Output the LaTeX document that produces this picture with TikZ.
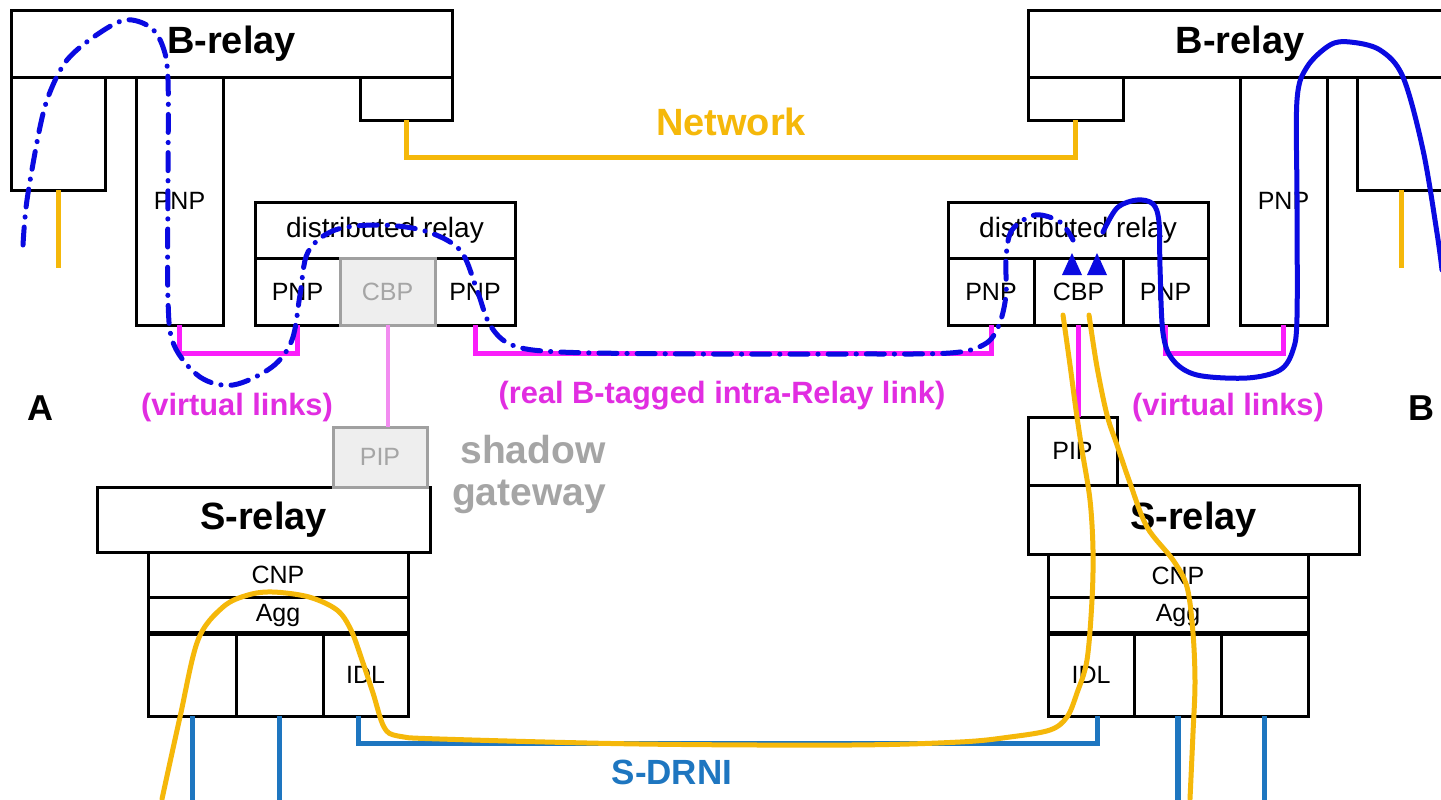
\documentclass[tikz,border=0pt]{standalone}
\usepackage{fontspec}
\setmainfont{Liberation Sans}
\usetikzlibrary{fit,calc}
\definecolor{netorange}{RGB}{245,184,10}
\definecolor{linkmag}{RGB}{250,30,250}
\definecolor{textmag}{RGB}{225,45,225}
\definecolor{pinkline}{RGB}{242,140,240}
\definecolor{pathblue}{RGB}{10,10,225}
\definecolor{steel}{RGB}{30,118,192}
\definecolor{ghosttext}{RGB}{165,165,165}
\definecolor{ghostdraw}{RGB}{160,160,160}
\definecolor{ghostfill}{RGB}{238,238,238}
\begin{document}
\begin{tikzpicture}[x=0.5pt,y=-0.5pt,
  blk/.style={draw=black, line width=1.5pt, fill=white, inner sep=0pt, outer sep=0pt},
  ghost/.style={draw=ghostdraw, line width=1.5pt, fill=ghostfill, inner sep=0pt, outer sep=0pt},
  smalltxt/.style={inner sep=0pt, font=\fontsize{12.5}{15}\selectfont},
  ghosttxt/.style={smalltxt, text=ghosttext},
  relaytxt/.style={inner sep=0pt, font=\bfseries\fontsize{19}{22}\selectfont},
  drtxt/.style={inner sep=0pt, font=\fontsize{14}{16}\selectfont},
  magtxt/.style={text=textmag, font=\bfseries\fontsize{15.4}{18}\selectfont},
  side/.style={font=\bfseries\fontsize{18}{21}\selectfont},
  orangeln/.style={draw=netorange, line width=2.5pt},
  magln/.style={draw=linkmag, line width=2.5pt},
  steelln/.style={draw=steel, line width=2.5pt},
  dashdot/.style={draw=pathblue, line width=2.5pt, line cap=round,
    dash pattern=on 9pt off 5pt on 0.1pt off 5pt},
  solidblue/.style={draw=pathblue, line width=2.5pt, line cap=round}
]
\clip (0,0) rectangle (1441,799);
\fill[white] (0,0) rectangle (1441,799);

% ---------- left bridge ----------
\node[blk, fit={(11,10)(452,77)}] (brL) {};
\node[blk, fit={(11,77)(105,190)}] (aL) {};
\node[blk, fit={(136,77)(223,325)}] (pnpL) {};
\node[blk, fit={(360,77)(452,120)}] (sL) {};
\node[blk, fit={(255,202)(515,258)}] (drL) {};
\node[blk, fit={(255,258)(340,325)}] (dpL1) {};
\node[blk, fit={(435,258)(515,325)}] (dpL2) {};
\node[ghost, fit={(340,258)(435,325)}] (cbpL) {};
\node[relaytxt] (brL-t) at (brL) {B-relay};
\node[smalltxt] (pnpL-t) at (pnpL) {PNP};
\node[drtxt] (drL-t) at (drL) {distributed relay};
\node[smalltxt] (dpL1-t) at (dpL1) {PNP};
\node[smalltxt] (dpL2-t) at (dpL2) {PNP};
\node[ghosttxt] (cbpL-t) at (cbpL) {CBP};

% ---------- right bridge ----------
\node[blk, fit={(1028,10)(1452,77)}] (brR) {};
\node[blk, fit={(1028,77)(1123,120)}] (sR) {};
\node[blk, fit={(1240,77)(1327,325)}] (pnpR) {};
\node[blk, fit={(1357,77)(1452,190)}] (aR) {};
\node[blk, fit={(948,202)(1208,258)}] (drR) {};
\node[blk, fit={(948,258)(1034,325)}] (dpR1) {};
\node[blk, fit={(1034,258)(1123,325)}] (cbpR) {};
\node[blk, fit={(1123,258)(1208,325)}] (dpR2) {};
\node[relaytxt] (brR-t) at (brR) {B-relay};
\node[smalltxt] (pnpR-t) at (pnpR) {PNP};
\node[drtxt] (drR-t) at (drR) {distributed relay};
\node[smalltxt] (dpR1-t) at (dpR1) {PNP};
\node[smalltxt] (cbpR-t) at (cbpR) {CBP};
\node[smalltxt] (dpR2-t) at (dpR2) {PNP};

% ---------- left S-relay ----------
\node[blk, fit={(97,487)(430,552)}] (srL) {};
\node[blk, fit={(148,552)(408,597)}] (cnpL) {};
\node[blk, fit={(148,597)(408,633)}] (aggL) {};
\node[blk, fit={(148,633)(236,716)}] (c1L) {};
\node[blk, fit={(236,633)(323,716)}] (c2L) {};
\node[blk, fit={(323,633)(408,716)}] (idlL) {};
\draw[line width=2.5pt] (aggL.south west) -- (aggL.south east);
\node[ghost, fit={(333,427)(427,487)}] (pipL) {};
\node[relaytxt] (srL-t) at (srL) {S-relay};
\node[smalltxt] (cnpL-t) at (cnpL) {CNP};
\node[smalltxt] (aggL-t) at (aggL) {Agg};
\node[smalltxt] (idlL-t) at (idlL) {IDL};
\node[ghosttxt] (pipL-t) at (pipL) {PIP};

% ---------- right S-relay ----------
\node[blk, fit={(1028,417)(1117,485)}] (pipR) {};
\node[blk, fit={(1028,485)(1359,554)}] (srR) {};
\node[blk, fit={(1048,554)(1308,597)}] (cnpR) {};
\node[blk, fit={(1048,597)(1308,633)}] (aggR) {};
\node[blk, fit={(1048,633)(1134,716)}] (idlR) {};
\node[blk, fit={(1134,633)(1221,716)}] (c2R) {};
\node[blk, fit={(1221,633)(1308,716)}] (c3R) {};
\draw[line width=2.5pt] (aggR.south west) -- (aggR.south east);
\node[smalltxt] (pipR-t) at (pipR) {PIP};
\node[relaytxt] (srR-t) at (srR) {S-relay};
\node[smalltxt] (cnpR-t) at (cnpR) {CNP};
\node[smalltxt] (aggR-t) at (aggR) {Agg};
\node[smalltxt] (idlR-t) at (idlR) {IDL};

% ---------- network links ----------
\draw[orangeln] (sL.south) -- ++(0,37) -| (sR.south);
\draw[orangeln] (aL.south) -- ++(0,78);
\coordinate (aRport) at ($(aR.south west)+(44,0)$);
\draw[orangeln] (aRport) -- ++(0,78);

% virtual and intra-relay links
\draw[magln] (pnpL.south) -- ++(0,28) -| (dpL1.south);
\draw[magln] (dpL2.south) -- ++(0,28) -| (dpR1.south);
\draw[magln] (dpR2.south) -- ++(0,28) -| (pnpR.south);
\draw[draw=pinkline, line width=2pt] (cbpL.south) -- (cbpL.south |- pipL.north);
\draw[magln] (cbpR.south) -- (cbpR.south |- pipR.north);

% S-DRNI and edge ports
\draw[steelln] ([xshift=-3.5pt]idlL.south) -- ++(0,27) -| ([xshift=3pt]idlR.south);
\draw[steelln] (c1L.south) -- ++(0,90);
\draw[steelln] (c2L.south) -- ++(0,90);
\draw[steel, line width=3pt] (c2R.south) -- ++(0,90);
\draw[steelln] (c3R.south) -- ++(0,90);

% ---------- labels ----------
\node[text=netorange, font=\bfseries\fontsize{19}{22}\selectfont] (lnet) at (731,122) {Network};
\node[magtxt] (lvl) at (237,408) {(virtual links)};
\node[magtxt] (lvr) at (1228,408) {(virtual links)};
\node[magtxt] (lreal) at (722,396) {(real B-tagged intra-Relay link)};
\node[side] (lA) at (40,408) {A};
\node[side] (lB) at (1421,408) {B};
\node[text=ghosttext, font=\bfseries\fontsize{19.5}{22}\selectfont] (lsh1) at (533,450) {shadow};
\node[text=ghosttext, font=\bfseries\fontsize{19.5}{22}\selectfont] (lsh2) at (529,497) {gateway};
\node[text=steel, font=\bfseries\fontsize{17.5}{20}\selectfont] (ldrni) at (672,772) {S-DRNI};

% ---------- service paths ----------
\draw[orangeln, line cap=round] plot[smooth, tension=0.55] coordinates {
  (162,799) (180,717) (198,640) (223,607) (248,595) (273,592) (309,597) (337,610)
  (351,630) (362,660) (373,693) (384,727) (398,736) (440,739) (640,744) (850,745)
  (960,742) (1010,737) (1050,730) (1067,717) (1077,693) (1087,660) (1092,600)
  (1093,550) (1090,500) (1082,450) (1076,410) (1070,365) (1063,315)};
\draw[orangeln, line cap=round] plot[smooth, tension=0.55] coordinates {
  (1089,315) (1097,367) (1107,415) (1117,445) (1130,483) (1147,527) (1173,560)
  (1187,587) (1193,633) (1195,683) (1193,733) (1190,799)};

\fill[pathblue] (1062,275) -- (1072,253) -- (1082,275) -- cycle;
\fill[pathblue] (1087,275) -- (1097,253) -- (1107,275) -- cycle;

\draw[dashdot] plot[smooth, tension=0.55] coordinates {
  (23,245) (27,200) (40,127) (50,92) (67,60) (95,36) (125,20) (150,27) (163,47)
  (168,80) (168,180) (168,300) (174,345) (200,377) (233,385) (272,367) (292,340)
  (300,295) (308,252) (335,230) (380,225) (425,231) (460,250) (477,290) (490,325)
  (512,345) (560,352) (700,354) (850,354) (950,353) (985,344) (999,325) (1006,295)
  (1006,258) (1012,230) (1035,215) (1060,222) (1073,240)};

\draw[solidblue] plot[smooth, tension=0.55] coordinates {
  (1103,232) (1117,208) (1137,200) (1153,204) (1159,222) (1160,267) (1163,333)
  (1173,360) (1197,375) (1247,378) (1280,370) (1293,350) (1297,317) (1297,200)
  (1297,100) (1307,67) (1330,45) (1350,42) (1380,50) (1403,77) (1423,150)
  (1437,233) (1442,270)};
\end{tikzpicture}
\end{document}
